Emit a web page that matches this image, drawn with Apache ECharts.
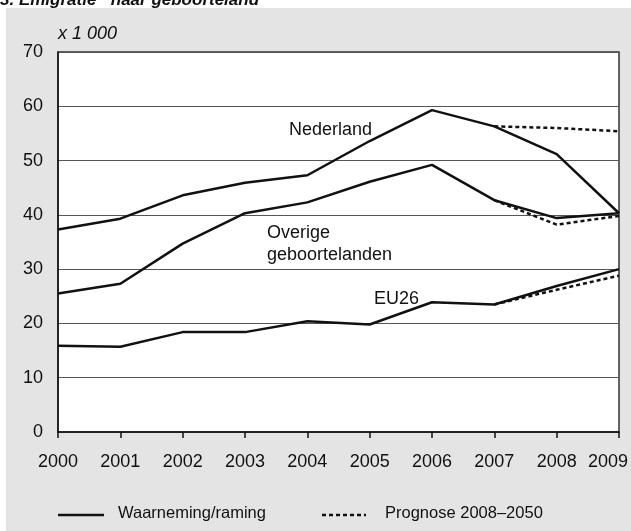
<!DOCTYPE html>
<html>
<head>
<meta charset="utf-8">
<script src="https://cdn.jsdelivr.net/npm/echarts@6/dist/echarts.min.js"></script>
<style>
  html, body { margin: 0; padding: 0; background: #fff; }
  #chart { width: 631px; height: 531px; }
</style>
</head>
<body>
<div id="chart"></div>
<script>
// jaren
const years = ["2000", "2001", "2002", "2003", "2004", "2005", "2006", "2007", "2008", "2009"];
const yTicks = [0, 10, 20, 30, 40, 50, 60, 70];

// waarneming/raming (x 1 000)
const nederland = [37.3, 39.3, 43.6, 45.9, 47.3, 53.6, 59.3, 56.3, 51.2, 40.3];
const overige = [25.5, 27.3, 34.7, 40.3, 42.3, 46.1, 49.2, 42.7, 39.4, 40.3];
const eu26 = [15.9, 15.7, 18.4, 18.4, 20.4, 19.8, 23.9, 23.5, 26.9, 30.0];

// prognose 2008-2050
const nederlandPrognose = [null, null, null, null, null, null, null, 56.3, 56.0, 55.4];
const overigePrognose = [null, null, null, null, null, null, null, 42.7, 38.2, 39.8];
const eu26Prognose = [null, null, null, null, null, null, null, 23.5, 26.2, 28.8];

const FONT = "Liberation Sans, Arial, Helvetica, sans-serif";
const SOLID = "Waarneming/raming";
const DOTTED = "Prognose 2008–2050";
const DASH = [4, 3];

function lijn(name, data, dotted) {
  return {
    name: name,
    type: "line",
    data: data,
    symbol: "none",
    silent: true,
    z: dotted ? 3 : 4,
    lineStyle: {
      color: "#111",
      width: 2.5,
      type: dotted ? DASH : "solid",
    },
  };
}

function tekst(x, y, s, font) {
  return {
    type: "text",
    x: x,
    y: y,
    z: 10,
    style: { text: s, font: font || "18px " + FONT, fill: "#111", lineHeight: 22 },
  };
}

// laatste jaar-label schuift iets naar links, zoals in het origineel
const xData = years.map((y, i) =>
  i === years.length - 1 ? { value: y, textStyle: { padding: [0, 22, 0, 0] } } : y
);

const chart = echarts.init(document.getElementById("chart"));
chart.setOption({
  animation: false,
  backgroundColor: "#fff",
  textStyle: { fontFamily: FONT },
  graphic: [
    // grijze achtergrond
    {
      type: "rect",
      z: -10,
      shape: { x: 6, y: 8, width: 640, height: 530 },
      style: { fill: "#e3e4e3" },
    },
    // titel (deels afgesneden)
    tekst(0, -11, "3. Emigratie¹⁾ naar geboorteland", "italic bold 17px " + FONT),
    tekst(58, 23, "x 1 000", "italic 18px " + FONT),
    tekst(289, 119, "Nederland"),
    tekst(267, 222, "Overige\ngeboortelanden"),
    tekst(374, 288, "EU26"),
    // legenda
    {
      type: "line",
      shape: { x1: 58, y1: 515, x2: 104, y2: 515 },
      style: { stroke: "#111", lineWidth: 2.5 },
    },
    tekst(118, 502, SOLID, "16.5px " + FONT),
    {
      type: "line",
      shape: { x1: 322, y1: 515, x2: 366, y2: 515 },
      style: { stroke: "#111", lineWidth: 2.5, lineDash: DASH },
    },
    tekst(385, 502, DOTTED, "16.5px " + FONT),
  ],
  grid: {
    left: 58,
    right: 12,
    top: 52,
    bottom: 99,
    outerBoundsMode: "none",
    show: true,
    backgroundColor: "#fff",
    borderColor: "#333",
    borderWidth: 1.5,
  },
  xAxis: {
    type: "category",
    data: xData,
    boundaryGap: false,
    axisLine: { lineStyle: { color: "#111", width: 1.5 } },
    axisTick: { show: true, length: 6, alignWithLabel: true, lineStyle: { color: "#111", width: 1.5 } },
    axisLabel: { fontSize: 18, color: "#111", margin: 21, fontFamily: FONT, interval: 0 },
    splitLine: { show: false },
  },
  yAxis: {
    type: "value",
    min: yTicks[0],
    max: yTicks[yTicks.length - 1],
    interval: 10,
    axisLine: { show: true, lineStyle: { color: "#111", width: 1.5 } },
    axisTick: { show: false },
    axisLabel: { fontSize: 18, color: "#111", margin: 15, fontFamily: FONT },
    splitLine: { lineStyle: { color: "#555", width: 1.2 } },
  },
  series: [
    lijn(SOLID, nederland, false),
    lijn(SOLID, overige, false),
    lijn(SOLID, eu26, false),
    lijn(DOTTED, nederlandPrognose, true),
    lijn(DOTTED, overigePrognose, true),
    lijn(DOTTED, eu26Prognose, true),
  ],
});
</script>
</body>
</html>
